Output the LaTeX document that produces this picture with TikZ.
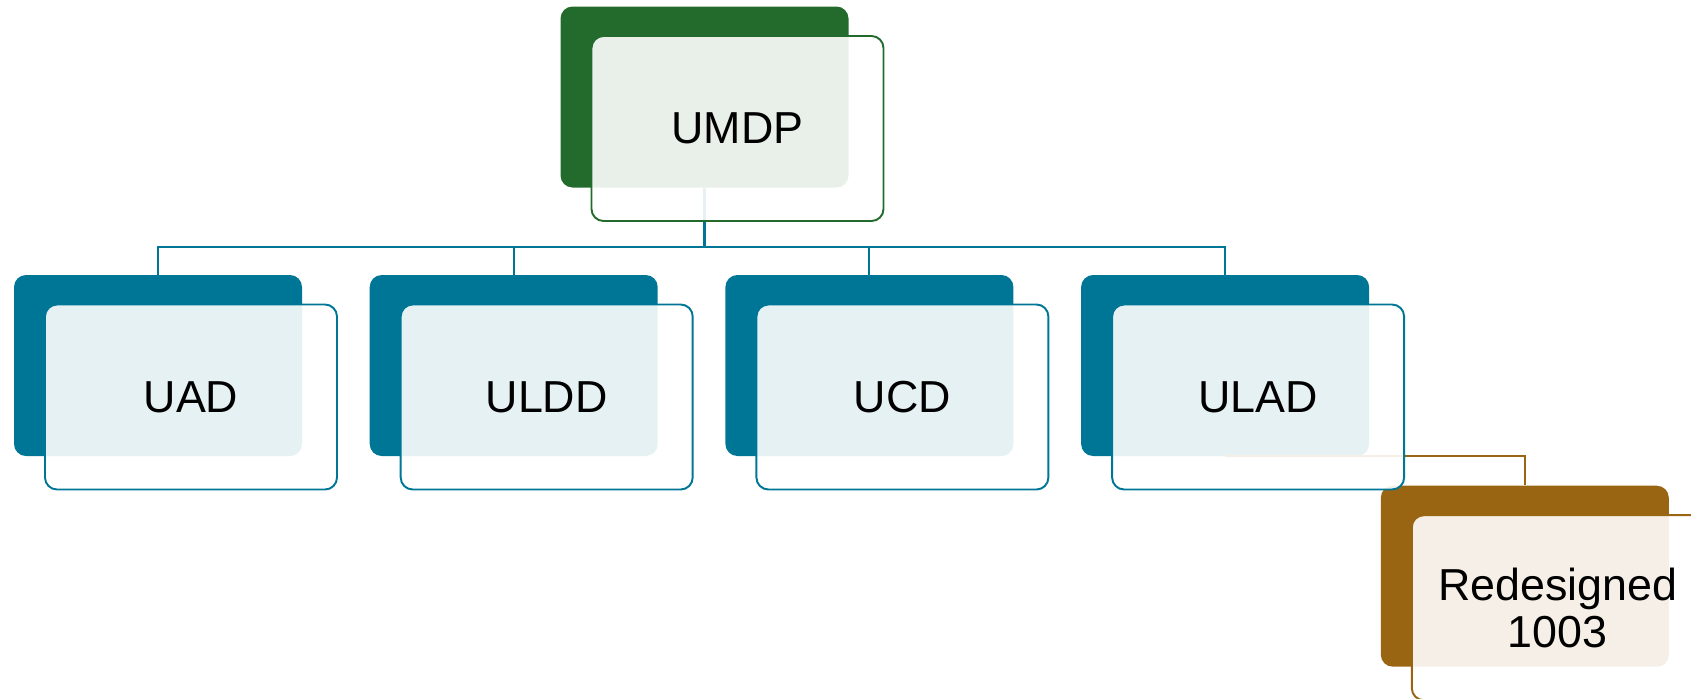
\documentclass[tikz,border=0pt]{standalone}
\usepackage{fontspec}
\setmainfont{Liberation Sans}
\usetikzlibrary{positioning}

\definecolor{umdpgreen}{RGB}{35,107,45}
\definecolor{unitteal}{RGB}{0,118,150}
\definecolor{redbrown}{RGB}{154,101,18}

\begin{document}
\begin{tikzpicture}
  [bk/.style={rectangle,rounded corners=0.24cm,minimum width=5.76cm,minimum height=3.62cm,inner sep=0pt,fill=#1},
   fr/.style={rectangle,rounded corners=0.24cm,minimum width=5.84cm,minimum height=3.7cm,inner sep=0pt,
              draw=#1,line width=1.1pt,fill=white,fill opacity=0.9,text opacity=1,
              font=\fontsize{25.5}{27}\selectfont,align=center},
   ln/.style={line width=1.2pt,draw=#1}]

  \useasboundingbox (0,0) rectangle (33.82,-13.96);
  \clip (0,0) rectangle (33.82,-13.96);

  % solid plates behind the cards
  \node[bk=umdpgreen] (bumdp) at (14.09,-1.94) {};
  \node[bk=unitteal]  (buad)  at (3.16,-7.31) {};
  \node[bk=unitteal]  (buldd) [right=1.34cm of buad] {};
  \node[bk=unitteal]  (bucd)  [right=1.34cm of buldd] {};
  \node[bk=unitteal]  (bulad) [right=1.34cm of bucd] {};
  \node[bk=redbrown]  (bredes) [below right=0.58cm and 0.22cm of bulad] {};

  % tree lines
  \foreach \name in {uad,uldd,ucd,ulad}
    \draw[ln=unitteal] (bumdp.south) |- ([yshift=0.56cm]b\name.north) -- (b\name.north);
  \draw[ln=redbrown] (bulad.south) -| (bredes.north);

  % cards with the labels
  \node[fr=umdpgreen] (umdp) at ([xshift=0.66cm,yshift=-0.63cm]bumdp.center) {UMDP};
  \foreach \name/\txt in {uad/UAD,uldd/ULDD,ucd/UCD,ulad/ULAD}
    \node[fr=unitteal] (\name) at ([xshift=0.66cm,yshift=-0.63cm]b\name.center) {\txt};
  \node[fr=redbrown] (redes) at ([xshift=0.66cm,yshift=-0.63cm]bredes.center) {Redesigned\\1003};

\end{tikzpicture}
\end{document}
